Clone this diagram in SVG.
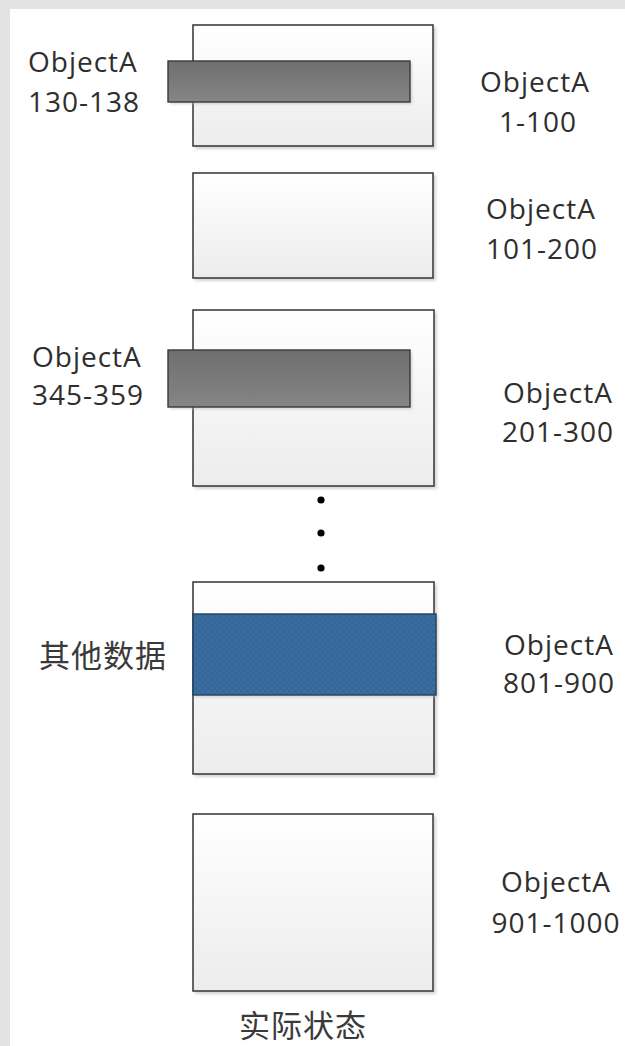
<svg xmlns="http://www.w3.org/2000/svg" width="625" height="1046" viewBox="0 0 625 1046">
  <defs>
    <linearGradient id="boxFill" x1="0" y1="0" x2="0" y2="1">
      <stop offset="0" stop-color="#ffffff"/>
      <stop offset="1" stop-color="#ececec"/>
    </linearGradient>
    <linearGradient id="barFill" x1="0" y1="0" x2="0" y2="1">
      <stop offset="0" stop-color="#6f6f6f"/>
      <stop offset="1" stop-color="#858585"/>
    </linearGradient>
    <pattern id="blueCheck" width="6" height="6" patternUnits="userSpaceOnUse">
      <rect width="6" height="6" fill="#3b6e9f"/>
      <rect width="3" height="3" fill="#36679a"/>
      <rect x="3" y="3" width="3" height="3" fill="#36679a"/>
    </pattern>
    <filter id="soft" x="-5%" y="-5%" width="115%" height="115%">
      <feGaussianBlur stdDeviation="1.5"/>
    </filter>
  </defs>
  <style>
    .box { fill: url(#boxFill); stroke: #3f3f3f; stroke-width: 1.6; }
    .shadow { fill: #b8b8b8; opacity: 0.6; filter: url(#soft); }
    .bar { fill: url(#barFill); stroke: #3a3a3a; stroke-width: 1.4; }
    .band { fill: url(#blueCheck); stroke: #23415f; stroke-width: 1.4; }
    .lbl { font-family: "Open Sans", "Noto Sans", "Liberation Sans", sans-serif; font-size: 28px; letter-spacing: 1px; fill: #2e2e2e; }
    .mid { text-anchor: middle; }
    .cjk { font-family: "Noto Sans CJK SC", "Noto Sans", sans-serif; font-size: 31px; letter-spacing: 1px; fill: #3a3a3a; text-anchor: middle; }
    .dot { fill: #000000; }
  </style>

  <!-- page background with grey margin -->
  <rect x="0" y="0" width="625" height="1046" fill="#e3e3e3"/>
  <rect x="10" y="9" width="615" height="1037" fill="#ffffff"/>

  <!-- block 1-100 with stored range 130-138 -->
  <g id="block-1-100">
    <rect class="shadow" x="195" y="27" width="241" height="122"/>
    <rect class="box" x="193" y="25" width="240" height="121"/>
    <rect class="shadow" x="170" y="63" width="242" height="41"/>
    <rect class="bar" x="168" y="61" width="242" height="41"/>
    <text class="lbl" x="28" y="72">ObjectA</text>
    <text class="lbl" x="28" y="112">130-138</text>
    <text class="lbl mid" x="535" y="92">ObjectA</text>
    <text class="lbl mid" x="538" y="132">1-100</text>
  </g>

  <!-- block 101-200 -->
  <g id="block-101-200">
    <rect class="shadow" x="195" y="175" width="241" height="106"/>
    <rect class="box" x="193" y="173" width="240" height="105"/>
    <text class="lbl mid" x="541" y="219">ObjectA</text>
    <text class="lbl mid" x="542" y="259">101-200</text>
  </g>

  <!-- block 201-300 with stored range 345-359 -->
  <g id="block-201-300">
    <rect class="shadow" x="195" y="312" width="242" height="177"/>
    <rect class="box" x="193" y="310" width="241" height="176"/>
    <rect class="shadow" x="170" y="352" width="242" height="57"/>
    <rect class="bar" x="168" y="350" width="242" height="57"/>
    <text class="lbl" x="32" y="367">ObjectA</text>
    <text class="lbl" x="32" y="405">345-359</text>
    <text class="lbl mid" x="558" y="403">ObjectA</text>
    <text class="lbl mid" x="558" y="442">201-300</text>
  </g>

  <!-- ellipsis between blocks -->
  <g id="ellipsis">
    <circle class="dot" cx="321" cy="500" r="3.6"/>
    <circle class="dot" cx="321" cy="533" r="3.6"/>
    <circle class="dot" cx="321" cy="568" r="3.6"/>
  </g>

  <!-- block 801-900 holding other data -->
  <g id="block-801-900">
    <rect class="shadow" x="195" y="584" width="242" height="193"/>
    <rect class="box" x="193" y="582" width="241" height="192"/>
    <rect class="shadow" x="195" y="616" width="243" height="81"/>
    <rect class="band" x="193" y="614" width="243" height="81"/>
    <text class="cjk" x="103" y="667">其他数据</text>
    <text class="lbl mid" x="559" y="655">ObjectA</text>
    <text class="lbl mid" x="559" y="693">801-900</text>
  </g>

  <!-- block 901-1000 -->
  <g id="block-901-1000">
    <rect class="shadow" x="195" y="816" width="241" height="178"/>
    <rect class="box" x="193" y="814" width="240" height="177"/>
    <text class="lbl mid" x="556" y="892">ObjectA</text>
    <text class="lbl mid" x="556" y="933">901-1000</text>
  </g>

  <!-- caption -->
  <g id="caption">
    <text class="cjk" x="303" y="1037">实际状态</text>
  </g>
</svg>
